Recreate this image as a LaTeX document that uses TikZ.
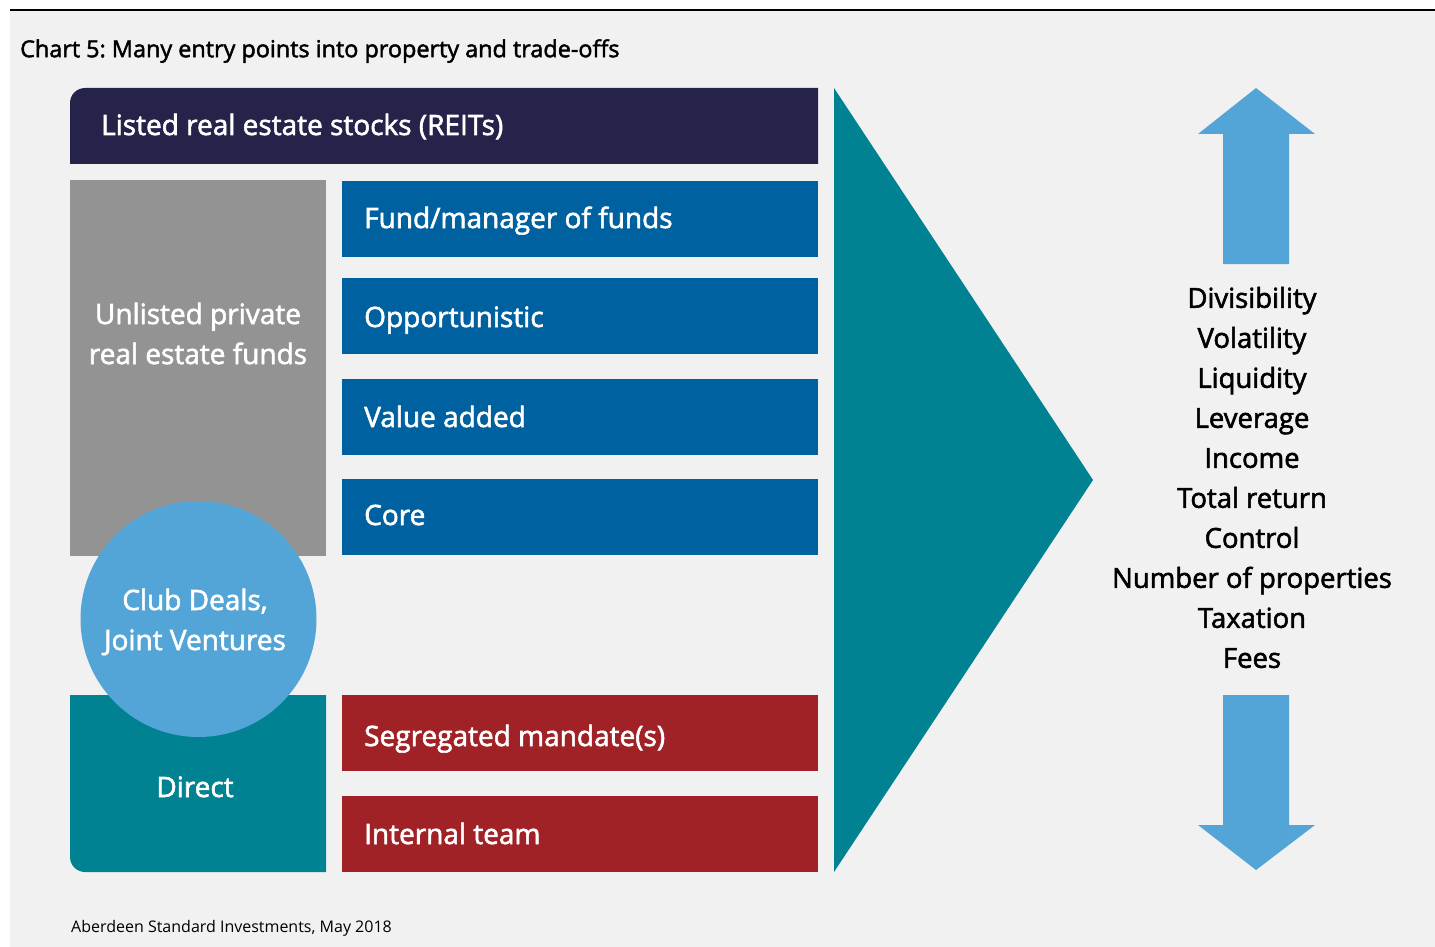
\documentclass[tikz,border=0pt]{standalone}
\usepackage{fontspec}
\setmainfont{Open Sans}
\newfontfamily\sbfont{Open Sans}[FakeBold=2]
\definecolor{bggray}{HTML}{F1F1F1}
\definecolor{navy}{HTML}{25234A}
\definecolor{midgray}{HTML}{939393}
\definecolor{fundblue}{HTML}{0061A0}
\definecolor{lightblue}{HTML}{54A5D7}
\definecolor{teal}{HTML}{008292}
\definecolor{darkred}{HTML}{A02226}
\frenchspacing
\begin{document}
\begin{tikzpicture}[x=1pt,y=-1pt,
  boxtxt/.style={anchor=base west,inner sep=0pt,text=white,font=\sbfont\fontsize{28}{40}\selectfont},
  ctrtxt/.style={anchor=base,inner sep=0pt,text=white,align=center,font=\sbfont\fontsize{28}{40}\selectfont},
  listtxt/.style={anchor=base,inner sep=0pt,text=black,align=center,font=\sbfont\fontsize{27.5}{40}\selectfont},
  bluebox/.style={fill=fundblue},
  redbox/.style={fill=darkred}]
\useasboundingbox (0,0) rectangle (1435,947);
\fill[white] (0,0) rectangle (1435,947);
\fill[bggray] (10,11) rectangle (1435,947);
\draw[line width=2.2pt] (10,10) -- (1435,10);
% title
\node[anchor=base west,inner sep=0pt,font=\sbfont\fontsize{23.4}{27}\selectfont] (title) at (20,57.2) {Chart 5: Many entry points into property and trade-offs};
% REITs
\fill[navy] (70,164) [rounded corners=15pt] -- (70,88) [sharp corners] -- (818,88) -- (818,164) -- cycle;
\node[boxtxt] (reits) at (101,135) {Listed real estate stocks (REITs)};
% unlisted
\fill[midgray] (70,180) rectangle (326,556);
\node[ctrtxt] (unlisted) at (198,364) {Unlisted private\\real estate funds};
% blue boxes
\fill[bluebox] (342,181) rectangle (818,257);
\node[boxtxt] (fund) at (364,228) {Fund/manager of funds};
\fill[bluebox] (342,278) rectangle (818,354);
\node[boxtxt] (opp) at (364,327) {Opportunistic};
\fill[bluebox] (342,379) rectangle (818,455);
\node[boxtxt] (va) at (364,427) {Value added};
\fill[bluebox] (342,479) rectangle (818,555);
\node[boxtxt] (core) at (364,525) {Core};
% direct
\fill[teal] (70,695) -- (326,695) -- (326,872) [rounded corners=15pt] -- (70,872) [sharp corners] -- cycle;
\node[ctrtxt] (direct) at (195,797) {Direct};
% circle
\fill[lightblue] (198.5,619) circle (118);
\node[ctrtxt] (club) at (195,650) {Club Deals,\\Joint Ventures};
% red boxes
\fill[redbox] (342,695) rectangle (818,771);
\node[boxtxt] (seg) at (364,746) {Segregated mandate(s)};
\fill[redbox] (342,796) rectangle (818,872);
\node[boxtxt] (internal) at (364,844) {Internal team};
% triangle
\fill[teal] (834,88) -- (1093,480) -- (834,872) -- cycle;
% arrows
\fill[lightblue] (1256,88) -- (1315,134) -- (1289,134) -- (1289,264) -- (1223,264) -- (1223,134) -- (1198,134) -- cycle;
\fill[lightblue] (1256,870) -- (1315,825) -- (1289,825) -- (1289,695) -- (1223,695) -- (1223,825) -- (1198,825) -- cycle;
% list
\node[listtxt] (list) at (1252,667.8) {Divisibility\\Volatility\\Liquidity\\Leverage\\Income\\Total return\\Control\\Number of properties\\Taxation\\Fees};
% footer
\node[anchor=base west,inner sep=0pt,font=\fontsize{16}{20}\selectfont] (src) at (71,932) {Aberdeen Standard Investments, May 2018};
\end{tikzpicture}
\end{document}
